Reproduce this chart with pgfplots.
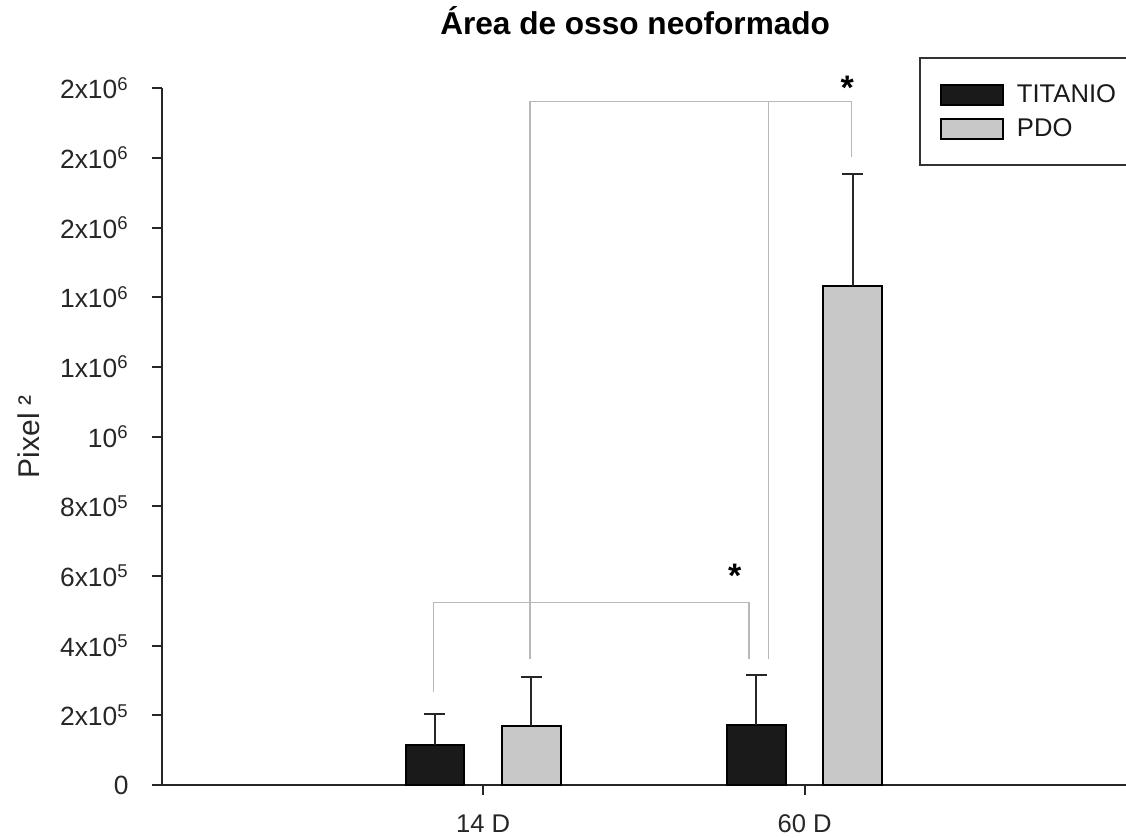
\documentclass[border=0pt]{standalone}
\usepackage{pgfplots}
\pgfplotsset{compat=1.18}
\usepackage{fontspec}
\setmainfont{Liberation Sans}
\definecolor{tifill}{HTML}{1A1A1A}
\definecolor{pdofill}{HTML}{C8C8C8}
\definecolor{brk}{HTML}{B8B8B8}
\pgfplotsset{mylegend/.style={legend image code/.code={\draw[#1] (0pt,-5pt) rectangle (31pt,5pt);}}}
\begin{document}
\begin{tikzpicture}
\begin{axis}[
  name=ax,
  width=482.15pt, height=348.35pt, scale only axis,
  xmin=0, xmax=3, ymin=0, ymax=2000000,
  clip=false,
  axis x line*=bottom, axis y line*=left,
  axis line style={-, line width=1pt, black!85},
  tick align=outside, major tick length=5pt,
  tick style={line width=1pt, black!85},
  xtick={1,2}, xticklabels={14 D,60 D},
  ytick={0,200000,400000,600000,800000,1000000,1200000,1400000,1600000,1800000,2000000},
  yticklabels={0,2x10\textsuperscript{5},4x10\textsuperscript{5},6x10\textsuperscript{5},8x10\textsuperscript{5},10\textsuperscript{6},1x10\textsuperscript{6},1x10\textsuperscript{6},2x10\textsuperscript{6},2x10\textsuperscript{6},2x10\textsuperscript{6}},
  scaled y ticks=false,
  yticklabel style={font=\fontsize{13.2}{15}\selectfont, text=black!85, xshift=-8pt},
  xticklabel style={font=\fontsize{12.8}{15}\selectfont, text=black!85, yshift=-6.5pt},
  title={Área de osso neoformado},
  title style={at={(0.491,1.0765)}, anchor=base, yshift=-6pt, font=\bfseries\fontsize{15.8}{18}\selectfont},
  ylabel={Pixel ²},
  ylabel style={at={(-0.138,0.5)}, anchor=center, rotate=0, font=\fontsize{15}{18}\selectfont, text=black!85},
  legend style={at={(0.7853,1.0445)}, anchor=north west, draw=black!80, line width=1pt,
    font=\fontsize{12.8}{15}\selectfont, inner xsep=10pt, inner ysep=11pt, row sep=2.5pt,
    column sep=4.5pt, text=black!90},
  legend cell align=left,
]
\addplot[ybar, bar width=0.183, bar shift=0pt, fill=tifill, draw=black, line width=1pt, mylegend,
  error bars/.cd, y dir=plus, y explicit,
  error bar style={line width=1pt, black!85},
  error mark options={rotate=90, black!85, mark size=5.25pt, line width=1pt}]
  coordinates {(0.85,114800) +- (0,88200) (1.85,171400) +- (0,145200)};
\addplot[ybar, bar width=0.183, bar shift=0pt, fill=pdofill, draw=black, line width=1pt, mylegend,
  error bars/.cd, y dir=plus, y explicit,
  error bar style={line width=1pt, black!85},
  error mark options={rotate=90, black!85, mark size=5.25pt, line width=1pt}]
  coordinates {(1.15,170200) +- (0,140700) (2.15,1431600) +- (0,322400)};
\legend{TITANIO,PDO}
\addplot[brk, line width=0.6pt, forget plot] coordinates {(0.845,267800) (0.845,523300) (1.827,523300) (1.827,361700)};
\addplot[brk, line width=0.6pt, forget plot] coordinates {(1.146,361700) (1.146,1962700) (2.147,1962700) (2.147,1801900)};
\addplot[brk, line width=0.6pt, forget plot] coordinates {(1.889,361700) (1.889,1962700)};
\node[font=\bfseries\fontsize{17}{17}\selectfont] at (axis cs:1.783,600000) {*};
\node[font=\bfseries\fontsize{17}{17}\selectfont] at (axis cs:2.133,2000000) {*};
\end{axis}
\pgfresetboundingbox
\path ([shift={(-80.85pt,-26pt)}]ax.south west) rectangle ([shift={(482.15pt,392.5pt)}]ax.south west);
\end{tikzpicture}
\end{document}
